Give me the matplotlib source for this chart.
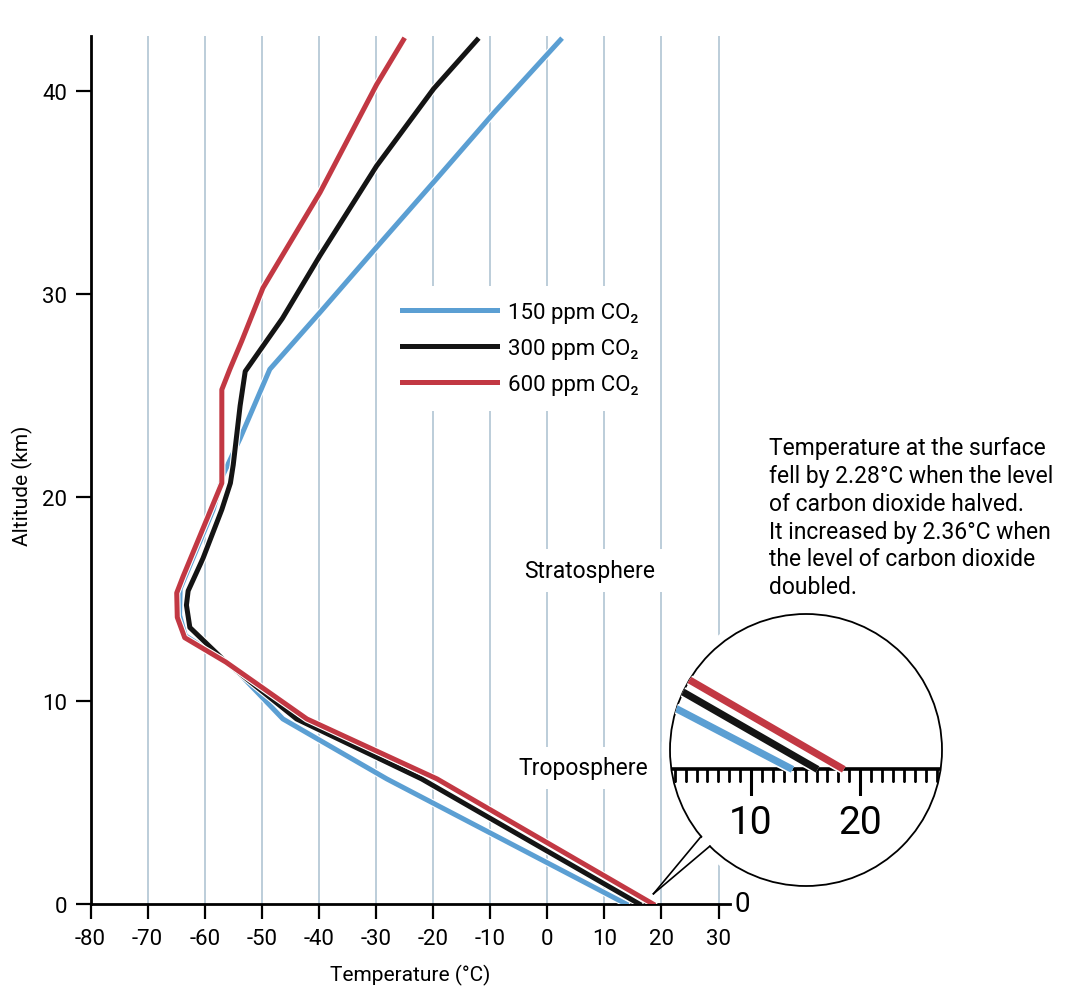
import matplotlib.pyplot as plt
import matplotlib.patheffects as pe
from matplotlib.patches import Circle, Polygon
from matplotlib.lines import Line2D
import numpy as np

plt.rcParams['font.family'] = ['Roboto', 'DejaVu Sans']
plt.rcParams['axes.unicode_minus'] = False

# temperature profiles (deg C) against altitude (km)
alt_150 = [0, 6.15, 9.1, 11.3, 11.9, 13.2, 14.2, 15.5, 19.4, 21.1, 22.9, 26.3, 29.1, 32.4, 35.7, 38.9, 42.5]
temp_150 = [13.8, -28.1, -46.3, -53.8, -56.3, -63.4, -64.4, -64.3, -58.5, -56.8, -53.8, -48.6, -39.8, -29.6, -19.3, -9.4, 2.3]

alt_300 = [0, 6.15, 9.1, 11.9, 13.6, 14.7, 15.4, 17.0, 19.4, 20.7, 21.6, 24.5, 26.2, 28.8, 31.9, 36.3, 40.1, 42.5]
temp_300 = [16.1, -22.0, -43.9, -56.3, -62.6, -63.2, -62.9, -60.3, -57.0, -55.5, -55.0, -53.8, -52.9, -46.4, -39.8, -29.9, -19.9, -12.3]

alt_600 = [0, 6.15, 9.1, 11.9, 13.1, 14.1, 15.3, 16.1, 20.7, 25.3, 26.3, 27.7, 30.3, 35.0, 40.3, 42.5]
temp_600 = [18.5, -19.3, -42.1, -56.3, -63.5, -64.8, -64.9, -63.8, -57.0, -57.0, -55.6, -53.5, -49.8, -39.8, -29.9, -25.2]

labels = ['150 ppm CO₂', '300 ppm CO₂', '600 ppm CO₂']
colors = ['#5b9fd3', '#141414', '#c23843']
xticks = list(range(-80, 31, 10))
yticks = [0, 10, 20, 30, 40]
inset_major = [10, 20]
inset_minor = list(range(3, 28))

note = ("Temperature at the surface\n"
        "fell by 2.28°C when the level\n"
        "of carbon dioxide halved.\n"
        "It increased by 2.36°C when\n"
        "the level of carbon dioxide\n"
        "doubled.")

series = [(temp_150, alt_150), (temp_300, alt_300), (temp_600, alt_600)]

fig = plt.figure(figsize=(10.8, 9.95), dpi=100)
ax = fig.add_axes([0.0838, 0.0905, 0.5921, 0.8724])
ax.set_xlim(-80, 32)
ax.set_ylim(0, 42.7)
for side in ['top', 'right']:
    ax.spines[side].set_visible(False)
ax.spines['left'].set_linewidth(2)
ax.spines['bottom'].set_linewidth(2)
ax.set_xticks(xticks)
ax.set_yticks(yticks)
ax.tick_params(direction='out', length=11, width=1.6, labelsize=16, pad=6)
ax.grid(axis='x', color='#a9c0d0', lw=1.1)
ax.set_axisbelow(True)

halo = [pe.Stroke(linewidth=5.2, foreground='white'), pe.Normal()]
for (t, a), c, lab in zip(series, colors, labels):
    ax.plot(t, a, color=c, lw=3.6, label=lab, zorder=3, path_effects=halo)

ax.set_xlabel('Temperature (°C)', fontsize=15, labelpad=11)
ax.set_ylabel('Altitude (km)', fontsize=15)
ax.yaxis.set_label_coords(-0.090, 0.483)

ax.text(32.8, 0, '0', ha='left', va='center', fontsize=20)

leg = ax.legend(loc='center', bbox_to_anchor=(0.672, 0.640), frameon=True,
                facecolor='white', edgecolor='none', framealpha=1, fontsize=16,
                handlelength=4.3, handletextpad=0.5, labelspacing=0.68, borderpad=0.7)

box = dict(facecolor='white', edgecolor='none', pad=7)
ax.text(7.5, 16.4, 'Stratosphere', ha='center', va='center', fontsize=16.5, bbox=box, zorder=4)
ax.text(6.3, 6.7, 'Troposphere', ha='center', va='center', fontsize=16.5, bbox=box, zorder=4)

fig.text(769 / 1080, 1 - 437 / 995, note, ha='left', va='top', fontsize=16.5, linespacing=1.27)

# magnifier circle around the surface values
ax_in = fig.add_axes([670 / 1080, 108 / 995, 272 / 1080, 272 / 995])
ax_in.set_xlim(2.57, 27.5)
ax_in.set_ylim(-3.0, 4.0)
ax_in.patch.set_visible(False)
ring = Circle((0.5, 0.5), 0.5, transform=ax_in.transAxes, facecolor='none',
              edgecolor='white', lw=12, zorder=0, clip_on=False)
circle = Circle((0.5, 0.5), 0.5, transform=ax_in.transAxes, facecolor='white',
                edgecolor='black', lw=1.3, zorder=1, clip_on=False)
ax_in.add_patch(ring)
ax_in.add_patch(circle)
for side in ['top', 'left', 'right']:
    ax_in.spines[side].set_visible(False)
ax_in.spines['bottom'].set_position(('data', 0))
ax_in.spines['bottom'].set_linewidth(2.6)
ax_in.spines['bottom'].set_clip_path(circle)
ax_in.set_yticks([])
ax_in.set_xticks(inset_major)
ax_in.set_xticks(inset_minor, minor=True)
ax_in.tick_params(axis='x', which='major', direction='out', length=19, width=2.2,
                  labelsize=28, pad=6)
ax_in.tick_params(axis='x', which='minor', direction='out', length=9, width=2.0)
for tk in ax_in.xaxis.get_major_ticks() + ax_in.xaxis.get_minor_ticks():
    tk.tick1line.set_clip_path(circle)
halo_in = [pe.Stroke(linewidth=7.5, foreground='white'), pe.Normal()]
for (t, a), c in zip(series, colors):
    ln, = ax_in.plot(t, a, color=c, lw=5.2, zorder=3, solid_capstyle='butt', path_effects=halo_in)
    ln.set_clip_path(circle)

# callout pointer from the surface point to the circle
to_fig = fig.transFigure.inverted()
tip = to_fig.transform(ax.transData.transform((18.6, 0.5)))
edge_pts = []
inner_pts = []
for ang in [219.5, 225.0]:
    r = np.deg2rad(ang)
    edge_pts.append(to_fig.transform(ax_in.transAxes.transform((0.5 + 0.5 * np.cos(r), 0.5 + 0.5 * np.sin(r)))))
    inner_pts.append(to_fig.transform(ax_in.transAxes.transform((0.5 + 0.47 * np.cos(r), 0.5 + 0.47 * np.sin(r)))))
fig.add_artist(Polygon([tip, inner_pts[0], inner_pts[1]], closed=True, transform=fig.transFigure,
                       facecolor='white', edgecolor='none', zorder=5))
for p in edge_pts:
    fig.add_artist(Line2D([tip[0], p[0]], [tip[1], p[1]], transform=fig.transFigure,
                          color='black', lw=1.2, zorder=6))

fig.savefig('out.png', dpi=100)
